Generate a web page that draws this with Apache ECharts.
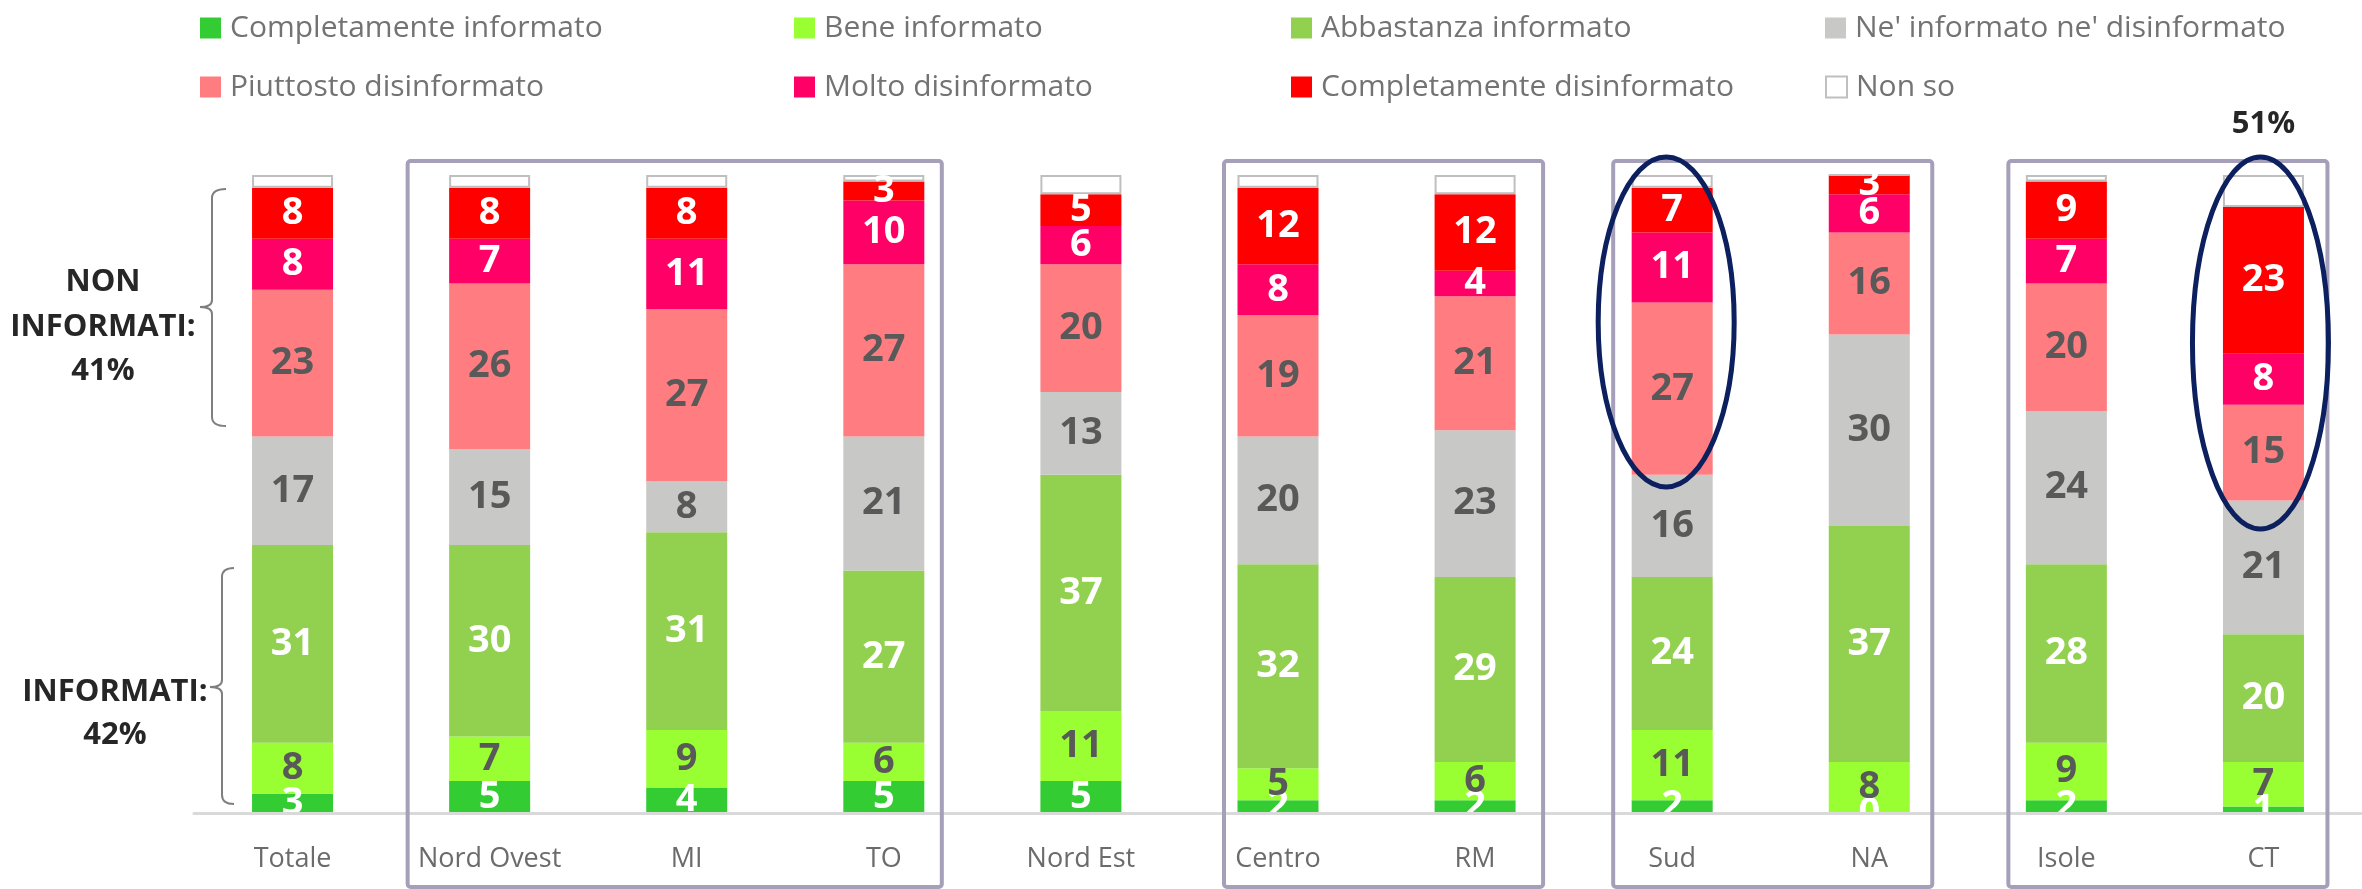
<!DOCTYPE html>
<html><head><meta charset="utf-8">
<script src="https://cdn.jsdelivr.net/npm/echarts@6/dist/echarts.min.js"></script>
<style>html,body{margin:0;padding:0;background:#fff}#c{width:2362px;height:889px}</style>
</head><body><div id="c"></div>
<script>
const categories = ['Totale','Nord Ovest','MI','TO','Nord Est','Centro','RM','Sud','NA','Isole','CT'];
const completamenteInformato = [3,5,4,5,5,2,2,2,0,2,1];
const beneInformato = [8,7,9,6,11,5,6,11,8,9,7];
const abbastanzaInformato = [31,30,31,27,37,32,29,24,37,28,20];
const neInformatoNeDisinformato = [17,15,8,21,13,20,23,16,30,24,21];
const piuttostoDisinformato = [23,26,27,27,20,19,21,27,16,20,15];
const moltoDisinformato = [8,7,11,10,6,8,4,11,6,7,8];
const completamenteDisinformato = [8,8,8,3,5,12,12,7,3,9,23];
const nonSo = [2,2,2,1,3,2,3,2,0,1,5];
const seriesNames = ['Completamente informato','Bene informato','Abbastanza informato',"Ne' informato ne' disinformato",'Piuttosto disinformato','Molto disinformato','Completamente disinformato','Non so'];

const FONT = "'Open Sans', sans-serif";
const WHITE = '#FFFFFF', DARK = '#595959';
const seriesStyle = [
  {color:'#33CC33', label:WHITE},
  {color:'#99FF33', label:DARK},
  {color:'#92D050', label:WHITE},
  {color:'#C8C8C6', label:DARK},
  {color:'#FF7C80', label:DARK},
  {color:'#FF0066', label:WHITE},
  {color:'#FF0000', label:WHITE},
  {color:'#FFFFFF', label:null, border:'#BFBFBF'}
];
const seriesData = [completamenteInformato, beneInformato, abbastanzaInformato, neInformatoNeDisinformato, piuttostoDisinformato, moltoDisinformato, completamenteDisinformato, nonSo];

const chart = echarts.init(document.getElementById('c'));

const series = seriesData.map((d, i) => {
  const st = seriesStyle[i];
  return {
    name: seriesNames[i], type: 'bar', stack: 'tot', data: d, barWidth: 81,
    itemStyle: st.border ? {color: st.color, borderColor: st.border, borderWidth: 2} : {color: st.color},
    label: {show: st.label !== null, position: 'inside', color: st.label || '#000', fontFamily: FONT, fontWeight: 'bold', fontSize: 38},
    emphasis: {disabled: true}, z: 2
  };
});

const legendCols = [200, 794, 1291, 1825];
const legendRows = [13, 72];
const legendMap = [[0,4],[1,5],[2,6],[3,7]];
const legends = [];
legendMap.forEach((col, ci) => col.forEach((si, ri) => {
  const st = seriesStyle[si];
  legends.push({
    data: [{name: seriesNames[si], itemStyle: st.border ? {color: '#fff', borderColor: st.border, borderWidth: 2} : {color: st.color}}],
    left: legendCols[ci], top: legendRows[ri], padding: 0, itemWidth: 21, itemHeight: 21, icon: 'rect',
    selectedMode: false,
    textStyle: {fontFamily: FONT, fontSize: 30, color: '#737373', lineHeight: 21, padding: [0,0,0,4]}
  });
}));

chart.setOption({
  animation: false,
  backgroundColor: '#fff',
  grid: {left: 194, top: 175, width: 2171, height: 638},
  legend: legends,
  xAxis: {
    type: 'category', data: categories, z: 20,
    axisLine: {lineStyle: {color: '#D9D9D9', width: 3}},
    axisTick: {show: false},
    axisLabel: {fontFamily: FONT, fontSize: 27, color: '#6B6B6B', margin: 33}
  },
  yAxis: {type: 'value', min: 0, max: 100, show: false, splitLine: {show: false}},
  series: series
});

// annotation layout (pixel offsets, not data)
const groupBoxes = [
  {from: 'Nord Ovest', to: 'TO', padL: 82, padR: 58},
  {from: 'Centro', to: 'RM', padL: 54, padR: 68},
  {from: 'Sud', to: 'NA', padL: 59, padR: 63},
  {from: 'Isole', to: 'CT', padL: 58, padR: 64}
];
const ellipses = [
  {cat: 'Sud', dx: -6, cy: 322, rx: 68, ry: 165},
  {cat: 'CT', dx: -3, cy: 343, rx: 68, ry: 186}
];
const cx = c => chart.convertToPixel({xAxisIndex: 0}, c);

const graphics = [];
graphics.push({type: 'rect', silent: true, z: 10, shape: {x: 0, y: 815, width: 2362, height: 74}, style: {fill: '#fff'}});
groupBoxes.forEach(b => {
  const x1 = cx(b.from) - b.padL, x2 = cx(b.to) + b.padR;
  graphics.push({type: 'rect', silent: true, z: 30, shape: {x: x1, y: 161, width: x2 - x1, height: 726, r: 3}, style: {fill: 'none', stroke: '#A59FBA', lineWidth: 4}});
});
ellipses.forEach(e => {
  graphics.push({type: 'ellipse', silent: true, z: 40, shape: {cx: cx(e.cat) + e.dx, cy: e.cy, rx: e.rx, ry: e.ry}, style: {fill: 'none', stroke: '#0C1F5E', lineWidth: 5}});
});
// curly brackets: xEnd = outer tips, xv = vertical line, xt = middle tip
function bracket(xEnd, xv, xt, yTop, yMid, yBot) {
  const st = {fill: 'none', stroke: '#7F7F7F', lineWidth: 2};
  const q = (x1, y1, cpx, cpy, x2, y2) => ({type: 'bezierCurve', silent: true, z: 30, shape: {x1, y1, x2, y2, cpx1: cpx, cpy1: cpy}, style: st});
  const l = (x1, y1, x2, y2) => ({type: 'line', silent: true, z: 30, shape: {x1, y1, x2, y2}, style: st});
  return [
    q(xEnd, yTop, xv, yTop, xv, yTop + 9),
    l(xv, yTop + 9, xv, yMid - 7),
    q(xv, yMid - 7, xv, yMid, xt, yMid),
    q(xt, yMid, xv, yMid, xv, yMid + 7),
    l(xv, yMid + 7, xv, yBot - 9),
    q(xv, yBot - 9, xv, yBot, xEnd, yBot)
  ];
}
graphics.push(...bracket(226, 212, 200, 189, 307, 426));
graphics.push(...bracket(234, 222, 210, 568, 687, 804));
const annStyle = {fontFamily: FONT, fontWeight: 'bold', fontSize: 31, fill: '#262626', align: 'center', verticalAlign: 'middle'};
graphics.push({type: 'text', silent: true, z: 30, style: Object.assign({x: 103, y: 327, text: 'NON\nINFORMATI:\n41%', lineHeight: 44.5}, annStyle)});
graphics.push({type: 'text', silent: true, z: 30, style: Object.assign({x: 115, y: 714, text: 'INFORMATI:\n42%', lineHeight: 43}, annStyle)});
graphics.push({type: 'text', silent: true, z: 30, style: Object.assign({x: cx('CT'), y: 124, text: '51%'}, annStyle)});

chart.setOption({graphic: {elements: graphics}});
</script>
</body></html>
